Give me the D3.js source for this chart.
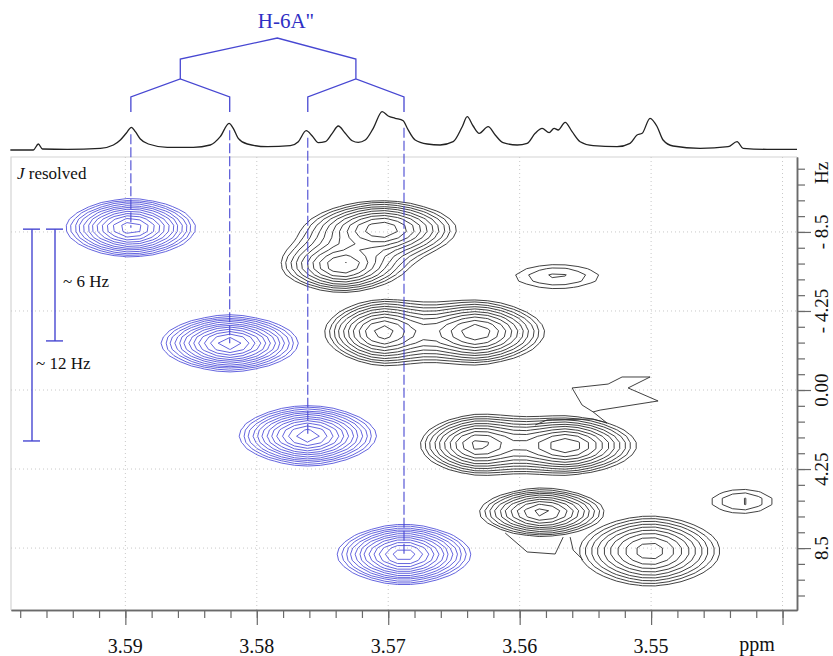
<!DOCTYPE html>
<html>
<head>
<meta charset="utf-8">
<script src="https://cdn.jsdelivr.net/npm/d3@7"></script>
<style>
  body { margin: 0; background: #fff; }
  svg { display: block; font-family: "Liberation Serif", "Times New Roman", serif; }
</style>
</head>
<body>
<svg id="chart" width="833" height="656"></svg>
<script>
// 1D 1H trace on top (ppm, intensity a.u.)
const tracePpm = [3.59875, 3.59700, 3.59662, 3.59631, 3.59441, 3.59190, 3.59091, 3.59038, 3.58992, 3.58954,
  3.58924, 3.58886, 3.58825, 3.58681, 3.58483, 3.58354, 3.58278, 3.58211, 3.58179, 3.58141,
  3.58072, 3.57920, 3.57745, 3.57684, 3.57624, 3.57578, 3.57532, 3.57479, 3.57426, 3.57380,
  3.57327, 3.57274, 3.57228, 3.57175, 3.57114, 3.57046, 3.57000, 3.56947, 3.56886, 3.56856,
  3.56795, 3.56703, 3.56605, 3.56506, 3.56437, 3.56399, 3.56354, 3.56308, 3.56240, 3.56186,
  3.56126, 3.56019, 3.55943, 3.55882, 3.55829, 3.55776, 3.55738, 3.55707, 3.55654, 3.55601,
  3.55540, 3.55441, 3.55259, 3.55160, 3.55107, 3.55068, 3.55008, 3.54954, 3.54909, 3.54833,
  3.54627, 3.54414, 3.54346, 3.54300, 3.54118, 3.53890];
const traceInt = [0, 0, 6, 1, 0.7, 1.7, 5, 10, 17, 22.7,
  18.3, 11, 6, 2.7, 2.7, 5, 13.3, 26.7, 21.7, 11.7,
  6, 3.3, 4.3, 8.3, 19.3, 14, 7.3, 8.3, 16.7, 24,
  16.7, 9.3, 7.7, 10, 21.7, 38.3, 34, 31.7, 29.3, 22,
  10, 6, 5, 8.3, 23.3, 33.3, 24, 16.7, 23.3, 15,
  7.3, 5, 6.7, 16.7, 21.7, 17.3, 21.7, 20, 27.7, 18.3,
  8.3, 4.3, 3.3, 6.7, 15, 16.7, 31.7, 23.3, 10, 4,
  1.7, 3.3, 8.3, 1.7, 0.7, 0.7];

// H-6A" multiplet cross peaks (blue): position, J offset, height, half-widths at lowest level
const multPpm = [3.58958, 3.58206, 3.57612, 3.56880];
const multHz = [-8.72, -2.51, 2.46, 8.85];
const multAmp = [8.6, 8.6, 8.6, 8.6];
const multWPpm = [0.00487, 0.00517, 0.00517, 0.00502];
const multWHz = [1.56, 1.51, 1.61, 1.61];
const multGroup = [0, 1, 2, 3];
const treeApexPpm = 3.57844;

// other cross peaks (black); peaks in one group overlap and are summed
const otherPpm = [3.57046, 3.57350, 3.55715, 3.57046, 3.56323, 3.56316, 3.55639, 3.55829, 3.55010, 3.54308];
const otherHz = [-8.66, -6.68, -6.10, -3.10, -3.10, 2.94, 2.99, 6.58, 8.66, 5.99];
const otherAmp = [5.9, 5.0, 1.5, 5.4, 5.8, 5.1, 5.8, 5.6, 4.9, 1.5];
const otherWPpm = [0.00548, 0.00441, 0.00319, 0.00418, 0.00502, 0.00418, 0.00517, 0.00471, 0.00532, 0.00236];
const otherWHz = [1.5, 1.4, 0.65, 1.67, 1.67, 1.51, 1.51, 1.29, 1.88, 0.65];
const otherGroup = [0, 0, 1, 2, 2, 3, 3, 4, 5, 6];

// stray low-level contour pieces (ppm, Hz)
const noiseLines = [
  [[3.55335, 1.78], [3.55441, 1.18], [3.55525, 0.81], [3.55601, -0.11], [3.55327, -0.32], [3.55221, -0.70],
   [3.55008, -0.70], [3.55175, -0.11], [3.54947, 0.59], [3.55388, 1.08], [3.55441, 1.18]],
  [[3.55882, 1.88], [3.55791, 1.61], [3.55441, 1.56], [3.55335, 1.78]],
  [[3.56110, 7.69], [3.55943, 8.71], [3.55730, 8.82], [3.55669, 7.91]],
  [[3.55616, 7.91], [3.55593, 8.61], [3.55517, 9.14]]
];

const ppmMajor = [3.59, 3.58, 3.57, 3.56, 3.55, 3.54];
const ppmLabels = ["3.59", "3.58", "3.57", "3.56", "3.55", ""];
const hzMajor = [-8.5, -4.25, 0, 4.25, 8.5];
const hzLabels = ["- 8.5", "- 4.25", "0.00", "4.25", "8.5"];
const jBars = [[-8.65, -2.64], [-8.65, 2.74]];
const jBarLabels = ["~ 6 Hz", "~ 12 Hz"];

const svg = d3.select("#chart");
const pL = 11, pR = 797, pT = 157, pB = 610;
const blue = "#4747d2";

const x = d3.scaleLinear().domain([3.5987, 3.5389]).range([pL, pR]);
const y = d3.scaleLinear().domain([-12.53, 11.83]).range([pT, pB]);
const ySpec = d3.scaleLinear().domain([0, 38.3]).range([150, 111.7]);

// frame (light top/left)
svg.append("path")
  .attr("d", `M${pL},${pB}V${pT}H${pR}`)
  .attr("fill", "none").attr("stroke", "#d4d4d4").attr("stroke-width", 1.2);

// dotted grid
const grid = svg.append("g").attr("stroke", "#c8c8c8").attr("stroke-dasharray", "1,3").attr("stroke-width", 1);
grid.selectAll(".gx").data(ppmMajor).join("line")
  .attr("x1", d => x(d)).attr("x2", d => x(d)).attr("y1", pT).attr("y2", pB);
grid.selectAll(".gy").data(hzMajor).join("line")
  .attr("y1", d => y(d)).attr("y2", d => y(d)).attr("x1", pL).attr("x2", pR);

// contour fields (Pearson VII line shape, lowest level = 1 at the given half-widths)
const nx = 62, ny = 74;
const gx = d3.scaleLinear().domain([0.5, nx - 0.5]).range(x.domain());
const gy = d3.scaleLinear().domain([0.5, ny - 0.5]).range(y.domain());
const levels = d3.range(16).map(k => Math.pow(1.2, k));

function field(idx, ppm, hz, amp, wp, wh) {
  const v = new Float64Array(nx * ny);
  for (let j = 0; j < ny; j++) {
    for (let i = 0; i < nx; i++) {
      const p = gx(i + 0.5), h = gy(j + 0.5);
      let s = 0;
      idx.forEach(k => {
        const u = Math.abs(p - ppm[k]) / wp[k], w = (h - hz[k]) / wh[k];
        const c = Math.cbrt(amp[k]) - 1;
        s += amp[k] / Math.pow(1 + c * (Math.pow(u, 1.75) + w * w), 3);
      });
      v[j * nx + i] = s;
    }
  }
  return v;
}

const proj = d3.geoTransform({
  point(px, py) { this.stream.point(x(gx(px)), y(gy(py))); }
});
const geo = d3.geoPath(proj);
const contours = d3.contours().size([nx, ny]).thresholds(levels);

function drawPeaks(g, ppm, hz, amp, wp, wh, group) {
  d3.groups(d3.range(ppm.length), k => group[k]).forEach(([, idx]) => {
    g.append("g").selectAll("path")
      .data(contours(field(idx, ppm, hz, amp, wp, wh)))
      .join("path").attr("d", geo);
  });
}

svg.append("defs").append("clipPath").attr("id", "plot")
  .append("rect").attr("x", pL).attr("y", pT).attr("width", pR - pL).attr("height", pB - pT);

const cg = svg.append("g").attr("clip-path", "url(#plot)").attr("fill", "none");
const blackG = cg.append("g").attr("stroke", "#2b2b2b").attr("stroke-width", 0.9);
drawPeaks(blackG, otherPpm, otherHz, otherAmp, otherWPpm, otherWHz, otherGroup);
const blueG = cg.append("g").attr("stroke", "#5454da").attr("stroke-width", 0.9);
drawPeaks(blueG, multPpm, multHz, multAmp, multWPpm, multWHz, multGroup);

const noiseLine = d3.line().x(d => x(d[0])).y(d => y(d[1]));
blackG.append("g").selectAll("path").data(noiseLines).join("path").attr("d", noiseLine);

// dashed connectors from 1D lines to cross peaks
const nearestInt = p => traceInt[d3.leastIndex(tracePpm, q => Math.abs(q - p))];
svg.append("g").attr("stroke", blue).attr("stroke-width", 1.1).attr("stroke-dasharray", "10,3")
  .selectAll("line").data(multPpm).join("line")
  .attr("x1", d => x(d)).attr("x2", d => x(d))
  .attr("y1", d => ySpec(nearestInt(d)) + 7)
  .attr("y2", (d, i) => y(multHz[i]));

// 1D spectrum
svg.append("path")
  .datum(tracePpm.map((p, i) => [p, traceInt[i]]))
  .attr("d", d3.line().x(d => x(d[0])).y(d => ySpec(d[1])).curve(d3.curveMonotoneX))
  .attr("fill", "none").attr("stroke", "#222").attr("stroke-width", 1.3);

// multiplet tree
const m1 = (multPpm[0] + multPpm[1]) / 2, m2 = (multPpm[2] + multPpm[3]) / 2;
const apexY = 38, l1Y = 59, dropY = 79, l2Y = 97, endY = 112;
let tree = `M${x(m1)},${dropY}V${l1Y}L${x(treeApexPpm)},${apexY}L${x(m2)},${l1Y}V${dropY}`;
[[multPpm[0], m1, multPpm[1]], [multPpm[2], m2, multPpm[3]]].forEach(([a, m, b]) => {
  tree += `M${x(a)},${endY}V${l2Y}L${x(m)},${dropY}L${x(b)},${l2Y}V${endY}`;
});
svg.append("path").attr("d", tree).attr("fill", "none").attr("stroke", blue).attr("stroke-width", 1.3);
svg.append("text").attr("x", 286).attr("y", 28).attr("text-anchor", "middle")
  .attr("font-size", 21).attr("fill", "#2f2fc4").text('H-6A"');

// J scale bars
const barX = [55, 32];
const bars = svg.append("g").attr("stroke", blue).attr("stroke-width", 1.4);
jBars.forEach((b, i) => {
  const bx = barX[i];
  bars.append("line").attr("x1", bx).attr("x2", bx).attr("y1", y(b[0])).attr("y2", y(b[1]));
  bars.append("line").attr("x1", bx - 9).attr("x2", bx + 8).attr("y1", y(b[0])).attr("y2", y(b[0]));
  bars.append("line").attr("x1", bx - 9).attr("x2", bx + 8).attr("y1", y(b[1])).attr("y2", y(b[1]));
});
svg.append("text").attr("x", 63).attr("y", 287).attr("font-size", 17).attr("fill", "#111").text(jBarLabels[0]);
svg.append("text").attr("x", 36).attr("y", 369).attr("font-size", 17).attr("fill", "#111").text(jBarLabels[1]);

const jt = svg.append("text").attr("x", 17).attr("y", 179).attr("font-size", 17).attr("fill", "#111");
jt.append("tspan").attr("font-style", "italic").text("J");
jt.append("tspan").text(" resolved");

// bottom axis
const axCol = "#6a6a6a";
const ppmMinor = d3.range(30).map(k => 3.540 + k * 0.002);
const bxA = svg.append("g").attr("transform", `translate(0,${pB})`)
  .call(d3.axisBottom(x).tickValues(ppmMinor).tickSize(8).tickSizeOuter(0).tickFormat(""));
const bxM = svg.append("g").attr("transform", `translate(0,${pB})`)
  .call(d3.axisBottom(x).tickValues(ppmMajor).tickSize(15).tickSizeOuter(0).tickFormat(""));
[bxA, bxM].forEach(g => {
  g.select(".domain").attr("stroke", axCol).attr("stroke-width", 1.5);
  g.selectAll(".tick line").attr("stroke", axCol).attr("stroke-width", 1.2);
});
svg.append("g").selectAll("text").data(ppmMajor).join("text")
  .attr("x", d => x(d)).attr("y", 653).attr("text-anchor", "middle")
  .attr("font-size", 20).attr("fill", "#111").text((d, i) => ppmLabels[i]);
svg.append("text").attr("x", 757).attr("y", 651).attr("text-anchor", "middle")
  .attr("font-size", 20).attr("fill", "#111").text("ppm");

// right axis
const hzMinor = d3.range(-14, 14).map(k => k * 0.85);
const ryA = svg.append("g").attr("transform", `translate(${pR},0)`)
  .call(d3.axisRight(y).tickValues(hzMinor).tickSize(8).tickSizeOuter(0).tickFormat(""));
const ryM = svg.append("g").attr("transform", `translate(${pR},0)`)
  .call(d3.axisRight(y).tickValues(hzMajor).tickSize(14).tickSizeOuter(0).tickFormat(""));
[ryA, ryM].forEach(g => {
  g.select(".domain").attr("stroke", axCol).attr("stroke-width", 1.5);
  g.selectAll(".tick line").attr("stroke", axCol).attr("stroke-width", 1.2);
});
const lx = 828;
svg.append("g").selectAll("text").data(hzMajor).join("text")
  .attr("transform", d => `translate(${lx},${y(d)}) rotate(-90)`)
  .attr("text-anchor", "middle").attr("font-size", 19).attr("fill", "#111")
  .text((d, i) => hzLabels[i]);
svg.append("text").attr("transform", `translate(${lx},173) rotate(-90)`)
  .attr("text-anchor", "middle").attr("font-size", 19).attr("fill", "#111").text("Hz");
</script>
</body>
</html>
